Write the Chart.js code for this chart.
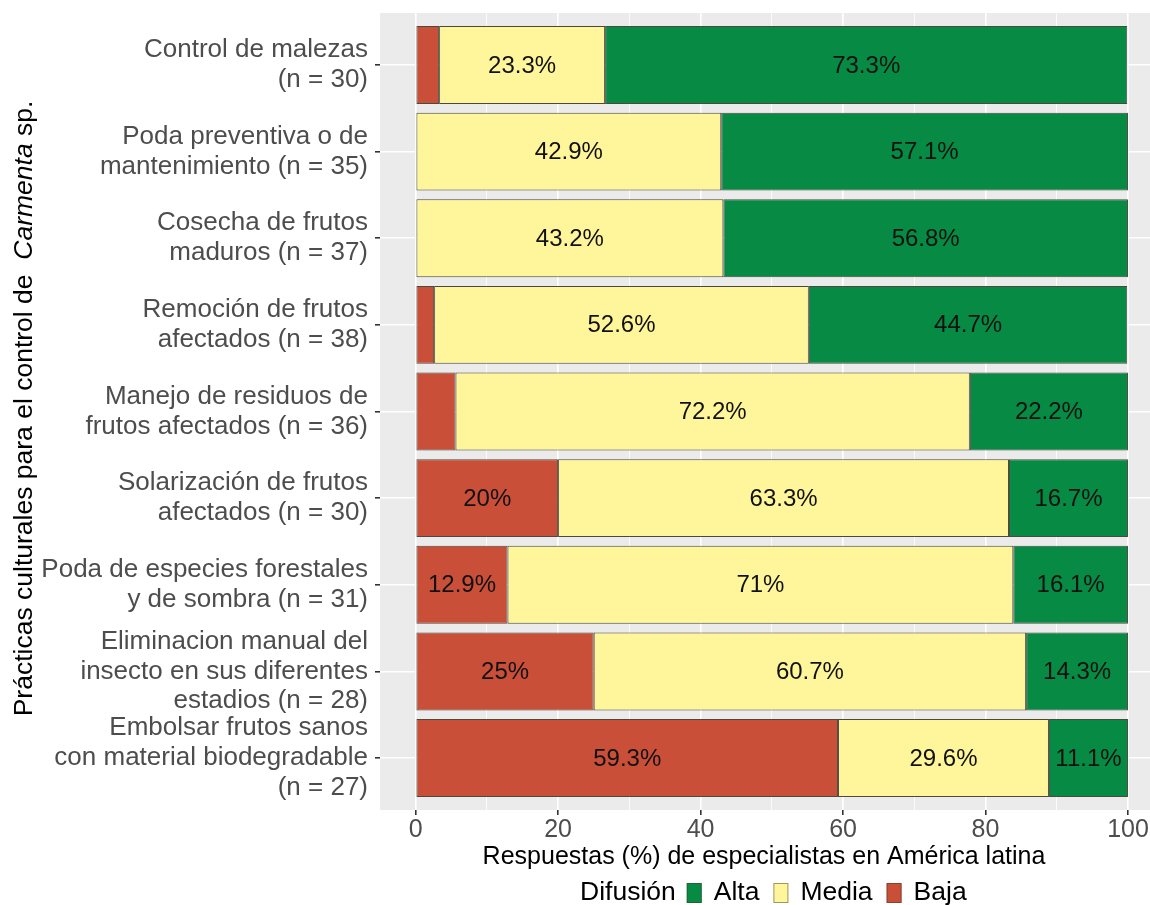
<!DOCTYPE html>
<html><head><meta charset="utf-8">
<script src="https://cdn.jsdelivr.net/npm/chart.js@4"></script>
<style>html,body{margin:0;padding:0;background:#fff}#wrap{position:relative;width:1150px;height:905px}</style>
</head><body><div id="wrap"><canvas id="c"></canvas></div>
<script>
const categories = [
  ["Control de malezas", "(n = 30)"],
  ["Poda preventiva o de", "mantenimiento (n = 35)"],
  ["Cosecha de frutos", "maduros (n = 37)"],
  ["Remoción de frutos", "afectados (n = 38)"],
  ["Manejo de residuos de", "frutos afectados (n = 36)"],
  ["Solarización de frutos", "afectados (n = 30)"],
  ["Poda de especies forestales", "y de sombra (n = 31)"],
  ["Eliminacion manual del", "insecto en sus diferentes", "estadios (n = 28)"],
  ["Embolsar frutos sanos", "con material biodegradable", "(n = 27)"]
];
const baja  = [3.3, 0, 0, 2.6, 5.6, 20, 12.9, 25, 59.3];
const media = [23.3, 42.9, 43.2, 52.6, 72.2, 63.3, 71, 60.7, 29.6];
const alta  = [73.3, 57.1, 56.8, 44.7, 22.2, 16.7, 16.1, 14.3, 11.1];
const seriesNames = ["Baja", "Media", "Alta"];
const xTicks = [0, 20, 40, 60, 80, 100];
const xMinorTicks = [10, 30, 50, 70, 90];
const xTitle = "Respuestas (%) de especialistas en América latina";
const yTitleParts = [["Prácticas culturales para el control de  ", false], ["Carmenta", true], [" sp.", false]];
const legendTitle = "Difusión";

const colors = {Baja: "#C94F38", Media: "#FFF59A", Alta: "#078A43"};
const FONT = "'Liberation Sans', Arial, Helvetica, sans-serif";

function toPoints(arr) { return arr.map((v, i) => ({x: v, y: i + 1})); }

const datasets = [baja, media, alta].map((arr, k) => ({
  label: seriesNames[k],
  data: toPoints(arr),
  backgroundColor: colors[seriesNames[k]],
  borderColor: "rgba(45,45,30,0.85)",
  borderWidth: ctx => (ctx.raw && ctx.raw.x > 0) ? 1 : 0,
  borderSkipped: false,
  barPercentage: 0.9,
  categoryPercentage: 1.0
}));

const fmt = v => (Math.round(v * 10) / 10).toString() + "%";

const decor = {
  id: "decor",
  beforeDraw(chart) {
    const {ctx, chartArea: a} = chart;
    ctx.save();
    ctx.fillStyle = "#EBEBEB";
    ctx.fillRect(a.left, a.top, a.right - a.left, a.bottom - a.top);
    ctx.restore();
  },
  afterDatasetsDraw(chart) {
    const ctx = chart.ctx;
    ctx.save();
    ctx.font = "24px " + FONT;
    ctx.fillStyle = "#111";
    ctx.textAlign = "center";
    ctx.textBaseline = "middle";
    chart.data.datasets.forEach((ds, di) => {
      const meta = chart.getDatasetMeta(di);
      meta.data.forEach((el, i) => {
        const v = ds.data[i].x;
        if (v >= 10) {
          ctx.fillText(fmt(v), (el.x + el.base) / 2, el.y + 1);
        }
      });
    });
    ctx.restore();
  },
  afterDraw(chart) {
    const ctx = chart.ctx;
    const a = chart.chartArea;
    ctx.save();
    // x title
    ctx.font = "25px " + FONT;
    ctx.fillStyle = "#000";
    ctx.textAlign = "center";
    ctx.textBaseline = "middle";
    ctx.fillText(xTitle, (a.left + 1164) / 2 - 8, 857);
    // y title (rotated, mixed italic)
    const fN = "26.5px " + FONT, fI = "italic 26.5px " + FONT;
    let total = 0;
    yTitleParts.forEach(([t, it]) => { ctx.font = it ? fI : fN; total += ctx.measureText(t).width; });
    ctx.translate(25, (a.top + a.bottom) / 2 - 3);
    ctx.rotate(-Math.PI / 2);
    ctx.textAlign = "left";
    let x = -total / 2;
    yTitleParts.forEach(([t, it]) => {
      ctx.font = it ? fI : fN;
      ctx.fillText(t, x, 0);
      x += ctx.measureText(t).width;
    });
    ctx.setTransform(1, 0, 0, 1, 0, 0);
    // legend
    const ly = 893;
    ctx.font = "26.5px " + FONT;
    ctx.textAlign = "left";
    let lx = 580;
    ctx.fillStyle = "#000";
    ctx.fillText(legendTitle, lx, ly);
    lx += ctx.measureText(legendTitle).width + 11;
    const order = chart.data.datasets.slice().reverse();
    order.forEach((ds, k) => {
      ctx.fillStyle = ds.backgroundColor;
      ctx.fillRect(lx, ly - 10, 15, 20);
      ctx.strokeStyle = "rgba(60,60,40,0.5)";
      ctx.lineWidth = 1;
      ctx.strokeRect(lx + 0.5, ly - 9.5, 14, 19);
      lx += 15 + 12;
      ctx.fillStyle = "#000";
      ctx.fillText(ds.label, lx, ly);
      lx += ctx.measureText(ds.label).width + 14;
    });
    ctx.restore();
  }
};

new Chart(document.getElementById("c"), {
  type: "bar",
  data: {datasets},
  options: {
    indexAxis: "y",
    responsive: true,
    maintainAspectRatio: false,
    animation: false,
    layout: {padding: {top: 13, right: 0, bottom: 0, left: 0}},
    plugins: {legend: {display: false}, tooltip: {enabled: false}},
    scales: {
      x: {
        type: "linear", stacked: true, min: -5, max: 103.09,
        afterBuildTicks: s => { s.ticks = xTicks.concat(xMinorTicks).sort((p, q) => p - q).map(v => ({value: v})); },
        ticks: {
          callback: v => (xTicks.includes(v) ? String(v) : ""),
          font: {size: 25, family: FONT}, color: "#4D4D4D", padding: 0, maxRotation: 0, autoSkip: false
        },
        grid: {
          color: "#FFFFFF",
          lineWidth: c => (c.tick && xTicks.includes(c.tick.value)) ? 1.6 : 0.8,
          tickColor: c => (c.tick && xTicks.includes(c.tick.value)) ? "#333333" : "rgba(0,0,0,0)",
          tickLength: 5
        },
        border: {display: false},
        afterFit: s => { s.height = 95; s.paddingLeft = 0; s.paddingRight = 0; }
      },
      y: {
        type: "linear", stacked: true, min: 0.4, max: 9.6, reverse: true, offset: false,
        afterBuildTicks: s => { s.ticks = categories.map((c, i) => ({value: i + 1})); },
        ticks: {
          callback: (v, i) => categories[i],
          font: {size: 26, family: FONT, lineHeight: 1.15}, color: "#4D4D4D", padding: 7, autoSkip: false
        },
        grid: {offset: false, color: "#FFFFFF", lineWidth: 1.6, tickColor: "#333333", tickLength: 5},
        border: {display: false},
        afterFit: s => { s.width = 380; s.paddingTop = 0; s.paddingBottom = 0; }
      }
    }
  },
  plugins: [decor]
});
</script>
</body></html>
